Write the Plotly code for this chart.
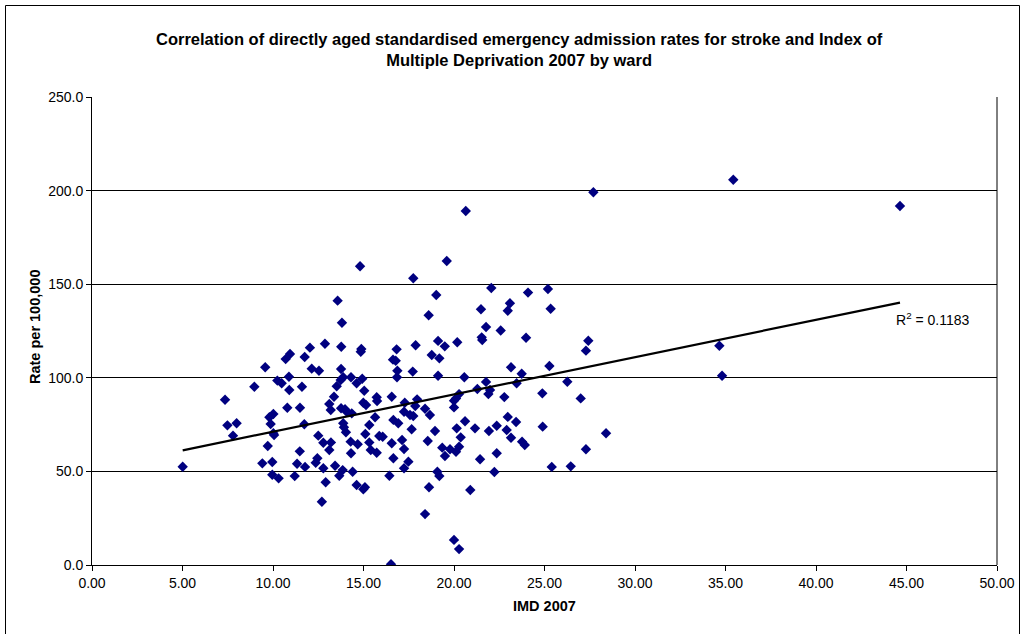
import numpy as np
import plotly.graph_objects as go

imd = [5.01, 7.35, 7.48, 7.99, 7.79, 8.97, 9.57, 9.41, 9.71, 9.80, 10.02, 9.87, 10.02, 10.06, 9.96, 9.96,
       10.31, 10.24, 10.48, 10.70, 10.94, 10.88, 10.90, 10.79, 11.49, 11.48, 11.33, 11.20, 11.77, 11.60, 11.75,
       12.04, 12.14, 12.54, 11.73, 12.50, 12.45, 12.36, 12.70,
       17.75, 14.81, 19.60, 19.02, 13.57, 18.60, 13.81, 12.87, 13.77, 14.88, 14.85, 16.83, 17.88, 19.12, 19.49,
       20.18, 18.77, 19.19, 16.63, 16.78, 13.76, 16.87, 17.72, 19.12, 16.85, 13.88, 13.74, 14.31, 14.93, 14.62,
       13.52, 15.04, 13.37, 15.73, 15.75, 16.56, 17.28, 17.96, 17.86, 18.40, 20.11, 20.00, 13.11, 13.76, 14.99,
       15.14, 13.98, 20.00, 13.19, 14.07, 14.35, 13.88, 13.92, 14.03, 18.67, 17.24, 17.57, 17.75, 15.64, 15.32,
       15.10, 16.65, 16.92, 17.66, 18.95, 20.15, 12.78, 13.20, 13.11, 14.29, 14.68, 14.31, 15.32, 15.40, 15.73,
       15.87, 16.06, 16.56, 17.13, 17.24, 16.65, 17.48, 17.24, 18.55, 19.35, 19.50, 19.78, 20.11, 20.28, 12.78,
       13.43, 13.66, 13.85, 14.40, 12.91, 14.62, 14.99, 15.08, 16.43, 19.08, 19.19, 18.62, 18.40, 20.00, 20.28,
       16.52,
       20.65, 27.70, 22.06, 24.09, 25.19, 23.09, 21.49, 22.97, 25.34, 21.77, 22.58, 21.53, 21.56, 23.98, 27.42,
       27.29, 23.15, 25.27, 23.74, 20.57, 21.77, 26.26, 23.46, 21.29, 21.99, 21.90, 20.28, 24.88, 22.78, 27.00,
       22.97, 23.43, 20.61, 21.16, 21.93, 22.36, 22.91, 23.15, 24.90, 28.40, 20.37, 23.76, 23.91, 27.29, 22.36,
       21.44, 25.40, 26.45, 22.23, 20.90,
       35.43, 44.64, 34.66, 34.81]

rate = [52.5, 88.3, 74.6, 75.7, 69.1, 95.2, 105.6, 54.3, 63.6, 78.9, 80.7, 75.3, 70.4, 69.4, 55.0, 48.2,
        46.3, 98.5, 97.1, 110.0, 112.7, 100.6, 93.5, 84.0, 84.0, 60.7, 54.1, 47.5, 52.4, 95.2, 111.1,
        116.1, 104.9, 103.8, 75.2, 69.1, 57.0, 54.6, 33.8,
        153.2, 159.6, 162.4, 144.2, 141.2, 133.4, 129.4, 118.2, 116.6, 115.4, 113.9, 115.2, 117.4, 119.7, 116.8,
        119.0, 112.2, 110.4, 109.7, 109.1, 104.7, 103.8, 103.3, 101.1, 100.3, 100.3, 98.8, 100.3, 99.5, 97.1,
        95.5, 93.1, 89.9, 89.6, 87.6, 89.9, 86.7, 88.5, 84.9, 83.5, 89.0, 87.8, 86.0, 83.7, 86.7,
        85.5, 83.2, 84.2, 82.8, 81.9, 81.0, 75.7, 73.6, 70.9, 80.1, 81.9, 80.1, 79.6, 78.9, 74.8,
        70.0, 77.5, 75.7, 72.5, 71.6, 73.0, 65.3, 65.5, 61.4, 65.9, 64.5, 59.7, 65.5, 61.4, 60.0,
        68.9, 68.5, 65.0, 66.8, 62.0, 57.0, 55.2, 51.7, 66.2, 62.7, 58.2, 61.8, 60.5, 63.2, 51.7,
        53.0, 47.7, 50.7, 49.8, 44.2, 42.7, 40.4, 41.5, 47.7, 49.8, 47.5, 41.5, 27.2, 13.4, 8.5,
        0.4,
        189.1, 199.1, 148.0, 145.5, 147.4, 139.8, 136.6, 135.8, 136.9, 127.1, 125.3, 121.6, 120.2, 121.4, 119.8,
        114.5, 105.6, 106.3, 102.2, 100.3, 97.8, 97.9, 97.1, 94.0, 93.5, 91.3, 91.3, 91.7, 89.7, 89.0,
        79.1, 76.4, 76.8, 73.0, 71.6, 74.4, 72.1, 68.0, 73.9, 70.4, 68.2, 65.9, 64.1, 61.8, 59.7,
        56.5, 52.4, 52.7, 49.7, 40.1,
        205.8, 191.8, 117.1, 101.1]

title_text = ("<b>Correlation of directly aged standardised emergency admission rates for stroke and Index of"
              "<br>Multiple Deprivation 2007 by ward</b>")
x_title = "IMD 2007"
y_title = "Rate per 100,000"
r2_label = "R<sup>2</sup> = 0.1183"
x_ticks = [0, 5, 10, 15, 20, 25, 30, 35, 40, 45, 50]
y_ticks = [0, 50, 100, 150, 200, 250]

x_arr = np.array(imd)
y_arr = np.array(rate)
slope, intercept = np.polyfit(x_arr, y_arr, 1)
tx = np.array([x_arr.min(), x_arr.max()])
ty = slope * tx + intercept

FONT = "Liberation Sans, Arial, sans-serif"
L, R, T, B = 92, 25, 97, 69
W, H = 1022, 634
PW, PH = W - L - R, H - T - B


def px(xp):
    return (xp - L) / PW


def py(yp):
    return (H - B - yp) / PH


fig = go.Figure()
fig.add_trace(go.Scatter(
    x=imd, y=rate, mode="markers",
    marker=dict(symbol="diamond", size=8, color="#000080", line=dict(width=0)),
    showlegend=False, hoverinfo="x+y"))
fig.add_trace(go.Scatter(
    x=tx, y=ty, mode="lines", line=dict(color="black", width=2.2),
    showlegend=False, hoverinfo="skip"))

fig.add_annotation(x=px(894), y=py(319), xref="paper", yref="paper", text=r2_label,
                   showarrow=False, xanchor="left", yanchor="middle",
                   font=dict(family=FONT, size=14, color="black"))
fig.add_annotation(x=px(519), y=py(50), xref="paper", yref="paper", text=title_text,
                   showarrow=False, xanchor="center", yanchor="middle", align="center",
                   font=dict(family=FONT, size=16.5, color="black"))
fig.add_annotation(x=px(544), y=py(606), xref="paper", yref="paper", text="<b>" + x_title + "</b>",
                   showarrow=False, xanchor="center", yanchor="middle",
                   font=dict(family=FONT, size=14.5, color="black"))
fig.add_annotation(x=px(35), y=py(327), xref="paper", yref="paper", text="<b>" + y_title + "</b>",
                   showarrow=False, xanchor="center", yanchor="middle", textangle=-90,
                   font=dict(family=FONT, size=14.5, color="black"))

fig.update_layout(
    width=W, height=H,
    margin=dict(l=L, r=R, t=T, b=B, autoexpand=False),
    paper_bgcolor="white", plot_bgcolor="white",
    font=dict(family=FONT, size=14, color="black"),
    xaxis=dict(range=[0, 50], tickvals=x_ticks, tickformat=".2f", automargin=False,
               showgrid=False, zeroline=False, showline=True, linecolor="black", linewidth=1,
               ticks="outside", ticklen=5, tickcolor="black",
               tickfont=dict(family=FONT, size=14)),
    yaxis=dict(range=[0, 250], tickvals=y_ticks, tickformat=".1f", automargin=False,
               showgrid=True, gridcolor="black", gridwidth=1, zeroline=False,
               showline=True, linecolor="black", linewidth=1,
               ticks="outside", ticklen=5, tickcolor="black",
               tickfont=dict(family=FONT, size=14)),
)

# plot area right border
fig.add_shape(type="line", xref="paper", yref="paper", x0=1, x1=1, y0=0, y1=1,
              line=dict(color="black", width=1))
# outer chart frame
fig.add_shape(type="rect", xref="paper", yref="paper",
              x0=px(5.5), x1=px(1019.5), y0=-0.3, y1=py(5.5),
              line=dict(color="black", width=1), fillcolor="rgba(0,0,0,0)", layer="below")

fig.write_html("out.html")
